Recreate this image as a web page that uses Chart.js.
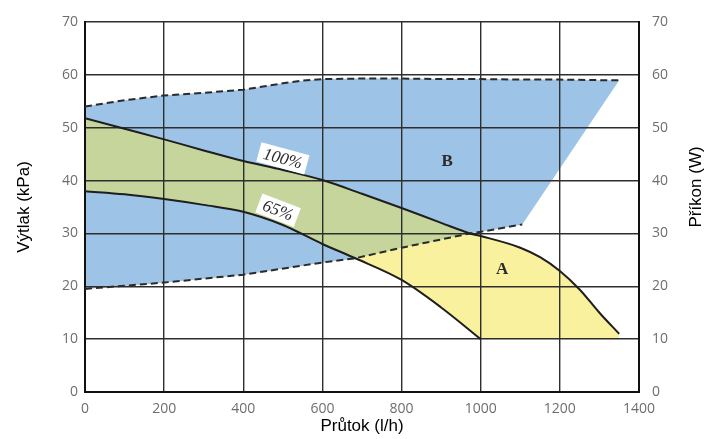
<!DOCTYPE html>
<html>
<head>
<meta charset="utf-8">
<script src="https://cdn.jsdelivr.net/npm/chart.js@4.4.1/dist/chart.umd.min.js"></script>
<style>
html,body{margin:0;padding:0;background:#fff;}
#wrap{width:715px;height:439px;}
</style>
</head>
<body>
<div id="wrap"><canvas id="pumpChart" width="715" height="439"></canvas></div>
<script>
// values: flow in l/h, head in kPa
const flow100 = [0,100,200,300,400,500,600,700,800,900,973,1000,1100,1150,1200,1250,1300,1350];
const head100 = [51.8,49.8,47.8,45.7,43.7,42,40.1,37.5,34.8,32,30,29.5,27.3,25.5,22.9,19.4,15,11];

const flow65 = [0,100,200,300,400,500,600,683,800,900,1000];
const head65 = [38,37.4,36.5,35.4,34.1,31.6,28,25.3,21.2,16,10];

// dashed limits of region B
const flowUpper = [0,100,200,300,400,450,500,550,600,700,800,900,1000,1100,1200,1300,1350];
const headUpper = [54,55.2,56.1,56.6,57.2,57.8,58.4,58.9,59.2,59.3,59.3,59.2,59.2,59.1,59.1,59,59];
const flowLower = [0,200,400,600,683,800,973,1000,1105];
const headLower = [19.5,20.7,22.2,24.5,25.3,27.3,30,30.3,31.7];
// right edge of B goes straight up to the end of the upper dashed line
const flowBEdge = [1350];
const headBEdge = [59];
// bottom of region A
const flowFloor = [1000,1350];
const headFloor = [10,10];

const BLUE = "#9dc3e6", GREEN = "#c6d59c", YELLOW = "#f9f19e";

function pts(xs, ys){ return xs.map((x,i)=>({x:x, y:ys[i]})); }

const curveStyle = {borderColor:"#1e1e1e", borderWidth:2, pointRadius:0, cubicInterpolationMode:"monotone", fill:false};
const hiddenCurve = {borderColor:"transparent", borderWidth:0, pointRadius:0, cubicInterpolationMode:"monotone"};
const dashStyle = {borderColor:"#2a2a2a", borderWidth:2, borderDash:[7,4], pointRadius:0, tension:0, fill:false};
const hiddenStraight = {borderColor:"transparent", borderWidth:0, pointRadius:0, tension:0};

// index 0 is never used as a fill target (filler treats 0 as "no fill")
const datasets = [
  Object.assign({label:"upper", data:pts(flowUpper,headUpper)}, dashStyle),          // 0
  Object.assign({label:"100%", data:pts(flow100,head100)}, curveStyle),              // 1
  Object.assign({label:"lower", data:pts(flowLower,headLower)}, dashStyle),          // 2
  Object.assign({label:"65%", data:pts(flow65,head65)}, curveStyle),                 // 3
  // B only: below 65% curve, above lower dashed line
  Object.assign({label:"bPatch", data:pts(flow65,head65), fill:{target:2, above:BLUE, below:"transparent"}}, hiddenCurve), // 4
  // overlap of A and B
  Object.assign({label:"green", data:pts(flow100,head100), fill:{target:2, above:GREEN, below:"transparent"}}, hiddenCurve), // 5
  // A right of 1000 l/h
  Object.assign({label:"aRight", data:pts(flow100,head100), fill:{target:8, above:YELLOW, below:YELLOW}}, hiddenCurve), // 6
  // A between the two curves
  Object.assign({label:"aLeft", data:pts(flow100,head100), fill:{target:3, above:YELLOW, below:YELLOW}}, hiddenCurve), // 7
  Object.assign({label:"floor", data:pts(flowFloor,headFloor), fill:false}, hiddenStraight), // 8
  // B whole
  Object.assign({label:"bTop", data:pts(flowUpper,headUpper), fill:{target:10, above:BLUE, below:BLUE}}, hiddenStraight), // 9
  Object.assign({label:"bBottom", data:pts(flowLower.concat(flowBEdge), headLower.concat(headBEdge)), fill:false}, hiddenStraight) // 10
];

// text placed on the chart, in data units
const notes = [
  {text:"100%", x:500, y:44.2, rot:15, italic:true, box:true},
  {text:"65%",  x:488, y:34.4, rot:21, italic:true, box:true},
  {text:"B",    x:915, y:43.7, rot:0,  italic:false, box:false},
  {text:"A",    x:1054,y:23.3, rot:0,  italic:false, box:false}
];

// fills are painted before the lines, so the curve control points
// of fill targets must exist already
const curvePrep = {
  id:"curvePrep",
  afterUpdate(chart){
    chart.getSortedVisibleDatasetMetas().forEach(m=>{
      if(m.dataset) m.dataset.updateControlPoints(chart.chartArea, "x");
    });
  }
};

const notePlugin = {
  id:"notes",
  afterDraw(chart){
    const ctx = chart.ctx;
    const sx = chart.scales.x, sy = chart.scales.y;
    notes.forEach(n=>{
      ctx.save();
      ctx.translate(sx.getPixelForValue(n.x), sy.getPixelForValue(n.y));
      ctx.rotate(n.rot*Math.PI/180);
      ctx.font = n.italic ? "italic 17px 'Liberation Serif'" : "bold 17px 'Liberation Serif'";
      ctx.textAlign = "center";
      ctx.textBaseline = "middle";
      if(n.box){
        const w = ctx.measureText(n.text).width + 10;
        ctx.fillStyle = "#fff";
        ctx.fillRect(-w/2, -10, w, 20);
      }
      ctx.fillStyle = "#2b2b2b";
      ctx.fillText(n.text, 0, 1);
      ctx.restore();
    });
    // right axis title reads bottom to top
    ctx.save();
    ctx.translate(696, 187);
    ctx.rotate(-Math.PI/2);
    ctx.font = "17px 'Liberation Sans'";
    ctx.fillStyle = "#000";
    ctx.textAlign = "center";
    ctx.textBaseline = "middle";
    ctx.fillText("Příkon (W)", 0, 0);
    ctx.restore();
  }
};

const tickFont = {family:"'Open Sans'", size:14};
const gridStyle = {color:"#2e2e2e", lineWidth:1.4, drawTicks:false};
const borderStyle = {display:true, color:"#111", width:2};

new Chart(document.getElementById("pumpChart"), {
  type:"line",
  data:{datasets:datasets},
  options:{
    responsive:false,
    animation:false,
    layout:{padding:{top:22, left:0, right:0, bottom:0}},
    plugins:{
      legend:{display:false},
      tooltip:{enabled:false},
      filler:{drawTime:"beforeDraw"}
    },
    scales:{
      x:{
        type:"linear", min:0, max:1400,
        ticks:{stepSize:200, color:"#6e6e6e", font:tickFont, padding:9, maxRotation:0, callback:v=>String(v)},
        grid:gridStyle, border:borderStyle,
        title:{display:true, text:"Průtok (l/h)", color:"#000", font:{family:"'Liberation Sans'", size:17}, padding:{top:0, bottom:2}},
        afterFit(s){ s.height = 47; }
      },
      y:{
        type:"linear", position:"left", min:0, max:70,
        ticks:{stepSize:10, color:"#6e6e6e", font:tickFont, padding:7},
        grid:gridStyle, border:borderStyle,
        title:{display:true, text:"Výtlak (kPa)", color:"#000", font:{family:"'Liberation Sans'", size:17}, padding:{top:14, bottom:0}},
        afterFit(s){ s.width = 85; }
      },
      y2:{
        type:"linear", position:"right", min:0, max:70,
        ticks:{stepSize:10, color:"#6e6e6e", font:tickFont, padding:13},
        grid:{display:false, drawTicks:false}, border:borderStyle,
        afterFit(s){ s.width = 76; }
      }
    }
  },
  plugins:[curvePrep, notePlugin]
});
</script>
</body>
</html>
